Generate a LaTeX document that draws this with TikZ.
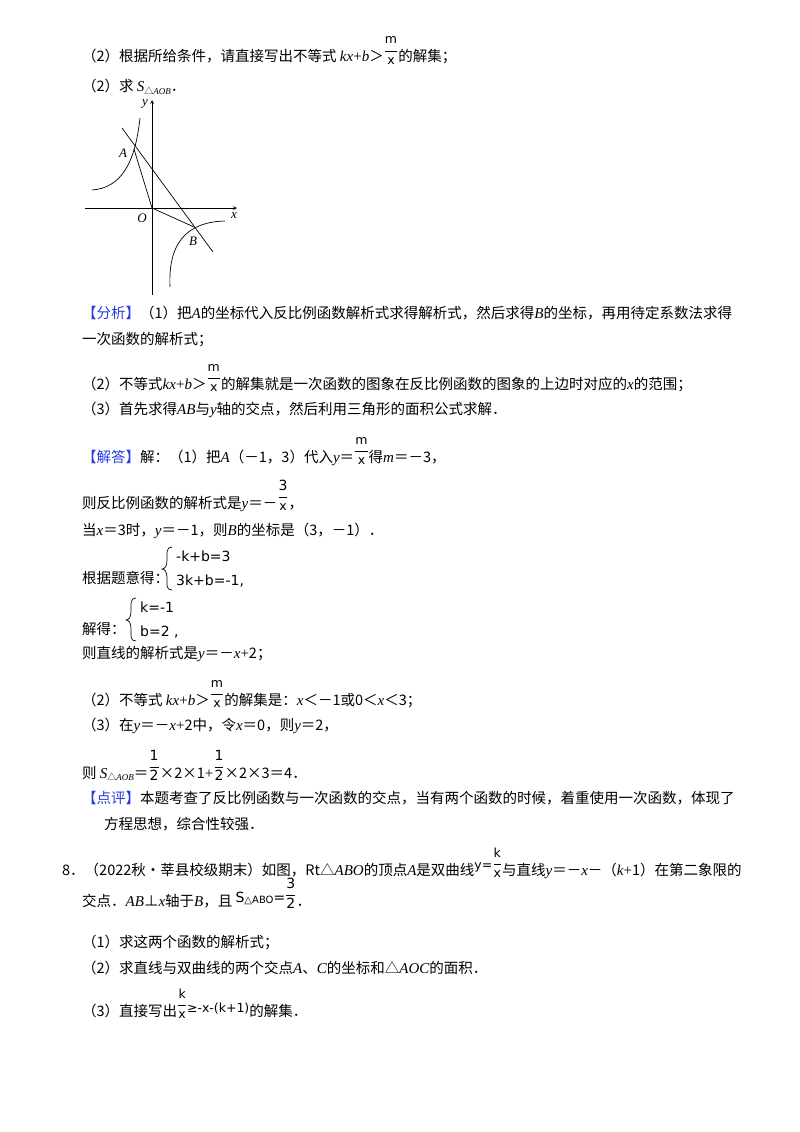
\documentclass[tikz,border=0pt]{standalone}
\usepackage{amsmath}
\usepackage{fontspec}
\setmainfont{Noto Sans CJK SC}
\newfontfamily\tn{Liberation Serif}
\newfontfamily\fs{DejaVu Sans}
\newcommand\vv[1]{{\tn\itshape\fontsize{15}{16}\selectfont #1}}
\newcommand\rr[1]{{\tn\fontsize{15}{16}\selectfont #1}}
\newcommand\fz{\fontsize{12.5}{14}\selectfont}
\newcommand\sz{\fontsize{14}{16}\selectfont}
\newcommand\fr[2]{\raisebox{0.5em}{$\genfrac{}{}{0.9pt}{0}{\hbox{\fs\fz #1}\rule[-4pt]{0pt}{4pt}}{\hbox{\fs\fz #2}}$}}
\newcommand\sub[1]{\raisebox{-2.5pt}{\fontsize{9}{10}\selectfont #1}}
\definecolor{bl}{RGB}{40,60,220}
\begin{document}
\begin{tikzpicture}[x=1pt,y=-1pt,font=\fontsize{14.5}{16}\selectfont,
 t/.style={anchor=base west,inner sep=0},
 g/.style={line width=0.7pt}, lab/.style={font=\fontsize{13}{14}\selectfont\tn\itshape,inner sep=0}]
\useasboundingbox (0,0) rectangle (800,1132);
\node[t] (l1) at (82,62) {（2）根据所给条件，请直接写出不等式 \vv{kx}\rr{+}\vv{b}＞\fr{m}{x}的解集；};
\node[t] (l2) at (82,92) {（2）求 \vv{S}\sub{△\vv{\fontsize{9}{10}\selectfont AOB}}．};
% graph
\coordinate (O) at (152,208);
\draw[g,-stealth] (152,295) -- (152,100) coordinate (ytop);
\draw[g,-stealth] (85,208) -- (237,208) coordinate (xr);
\draw[g] (92,190) .. controls (120,188) and (135,165) .. (140,118);
\draw[g] (170,287) .. controls (168,245) and (185,222) .. (225,221);
\coordinate (A) at (134,149);
\coordinate (B) at (194,227);
\draw[g] (122,128) -- (213,252);
\draw[g] (A) -- (O) -- (B);
\node[lab] at (145,104) {y};
\node[lab] at (234,216) {x};
\node[lab] at (123,153) {A};
\node[lab] at (142,218) {O};
\node[lab] at (193,241) {B};
% analysis
\node[t] (a1) at (82,318) {{\color{bl}【分析】}（1）把\vv{A}的坐标代入反比例函数解析式求得解析式，然后求得\vv{B}的坐标，再用待定系数法求得};
\node[t] (a2) at (82,344) {一次函数的解析式；};
\node[t] (a3) at (82,389) {（2）不等式\vv{kx}\rr{+}\vv{b}＞\fr{m}{x}的解集就是一次函数的图象在反比例函数的图象的上边时对应的\vv{x}的范围；};
\node[t] (a4) at (82,414) {（3）首先求得\vv{AB}与\vv{y}轴的交点，然后利用三角形的面积公式求解．};
\node[t] (s1) at (82,462) {{\color{bl}【解答】}解：（1）把\vv{A}（－1，3）代入\vv{y}＝\fr{m}{x}得\vv{m}＝－3，};
\node[t] (s2) at (82,508) {则反比例函数的解析式是\vv{y}＝－\fr{\sz 3}{x}，};
\node[t] (s3) at (82,535) {当\vv{x}＝3时，\vv{y}＝－1，则\vv{B}的坐标是（3，－1）．};
\node[t] (s4) at (82,583) {根据题意得：};
\node[t] at (176,561) {\fs\sz -k+b=3};
\node[t] at (176,585) {\fs\sz 3k+b=-1,};
\draw[g] (172,547) .. controls (166,547) and (167,553) .. (167,560) .. controls (167,566) and (165,569) .. (162,569) .. controls (165,569) and (167,572) .. (167,578) .. controls (167,585) and (166,590) .. (172,590);
\node[t] (s5) at (82,634) {解得：};
\node[t] at (140,612) {\fs\sz k=-1};
\node[t] at (140,636) {\fs\sz b=2 ,};
\draw[g] (136,598) .. controls (130,598) and (131,604) .. (131,611) .. controls (131,617) and (129,620) .. (126,620) .. controls (129,620) and (131,623) .. (131,629) .. controls (131,636) and (130,641) .. (136,641);
\node[t] (s6) at (82,658) {则直线的解析式是\vv{y}＝－\vv{x}\rr{+}2；};
\node[t] (s7) at (82,705) {（2）不等式 \vv{kx}\rr{+}\vv{b}＞\fr{m}{x}的解集是：\vv{x}＜－1或0＜\vv{x}＜3；};
\node[t] (s8) at (82,730) {（3）在\vv{y}＝－\vv{x}\rr{+}2中，令\vv{x}＝0，则\vv{y}＝2，};
\node[t] (s9) at (82,778) {则 \vv{S}\sub{△\vv{\fontsize{9}{10}\selectfont AOB}}＝\fr{\sz 1}{\sz 2}×2×1\rr{+}\fr{\sz 1}{\sz 2}×2×3＝4．};
\node[t] (c1) at (82,803) {{\color{bl}【点评】}本题考查了反比例函数与一次函数的交点，当有两个函数的时候，着重使用一次函数，体现了};
\node[t] (c2) at (104,829) {方程思想，综合性较强．};
% problem 8
\node[t] (p1) at (62,875) {8．（2022秋\textbullet 莘县校级期末）如图，Rt△\vv{ABO}的顶点\vv{A}是双曲线\raisebox{6pt}{\fs\fz y=}\fr{k}{x}与直线\vv{y}＝－\vv{x}－（\vv{k}\rr{+}1）在第二象限的};
\node[t] (p2) at (82,906) {交点．\vv{AB}⊥\vv{x}轴于\vv{B}，且 \raisebox{4pt}{\fs\sz S\raisebox{-1pt}{\fontsize{10}{11}\selectfont △ABO}=}\fr{\sz 3}{\sz 2}．};
\node[t] (p3) at (82,947) {（1）求这两个函数的解析式；};
\node[t] (p4) at (82,973) {（2）求直线与双曲线的两个交点\vv{A}、\vv{C}的坐标和△\vv{AOC}的面积．};
\node[t] (p5) at (82,1016) {（3）直接写出\fr{k}{x}\raisebox{4pt}{\fs\fz ≥-x-(k+1)}的解集．};
\end{tikzpicture}
\end{document}
